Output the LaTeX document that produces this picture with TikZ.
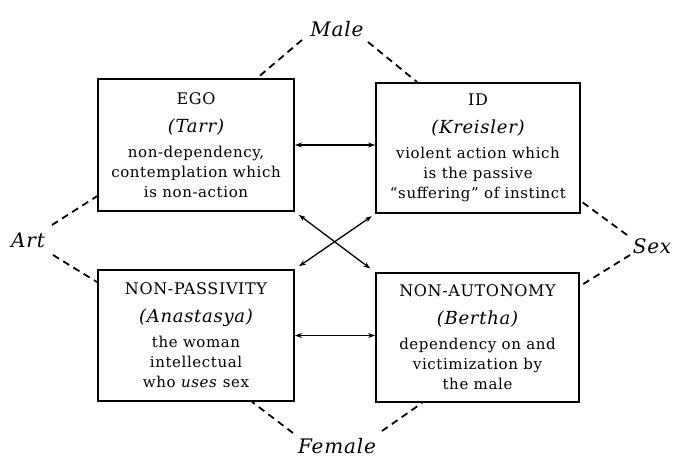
\documentclass[tikz,border=0pt]{standalone}
\usepackage{fontspec}
\setmainfont{DejaVu Serif}[LetterSpace=4]
\usetikzlibrary{arrows.meta,calc}
\begin{document}
\begin{tikzpicture}[x=1pt,y=-1pt,
  box/.style={draw,line width=1.8pt,inner sep=0pt,align=center,
    font=\fontsize{15}{20}\selectfont},
  lab/.style={font=\fontsize{20}{24}\selectfont\itshape,anchor=base,inner sep=0pt},
  dline/.style={line width=1.8pt,dash pattern=on 7pt off 5pt},
  link/.style={line width=1.3pt,{Stealth[length=7pt,width=5pt]}-{Stealth[length=7pt,width=5pt]}}]
\newcommand\hd[1]{{\fontsize{16}{20}\selectfont #1}}
\newcommand\nm[1]{{\fontsize{18}{20}\selectfont\itshape (#1)}}
\useasboundingbox (0,0) rectangle (674,458);
\fill[white] (0,0) rectangle (674,458);

\node[box,minimum width=196pt,minimum height=132pt] (ego) at (196,145)
  {\hd{EGO}\\[8pt] \nm{Tarr}\\[5pt] non-dependency,\\ contemplation which\\ is non-action};
\node[box,minimum width=204pt,minimum height=130pt] (id) at (478,148)
  {\hd{ID}\\[8pt] \nm{Kreisler}\\[5pt] violent action which\\ is the passive\\ ``suffering'' of instinct};
\node[box,minimum width=196pt,minimum height=131pt] (np) at (196,335.5)
  {\hd{NON-PASSIVITY}\\[8pt] \nm{Anastasya}\\[5pt] the woman\\ intellectual\\ who \textit{uses} sex};
\node[box,minimum width=203pt,minimum height=129pt] (na) at (477.5,337.5)
  {\hd{NON-AUTONOMY}\\[8pt] \nm{Bertha}\\[5pt] dependency on and\\ victimization by\\ the male};

\node[lab] (male) at (337,36) {Male};
\node[lab] (female) at (337,453) {Female};
\node[lab] (art) at (28,247) {Art};
\node[lab] (sex) at (652,253) {Sex};

\coordinate (maleL) at (302,40);
\coordinate (maleR) at (368,42);
\coordinate (artU) at (52,225);
\coordinate (artD) at (53,255);
\coordinate (sexU) at (627,235);
\coordinate (sexD) at (630,255);
\coordinate (femL) at (293,433);
\coordinate (femR) at (382,431);

\draw[dline] (maleL) -- ($(ego.north west)+(160,0)$);
\draw[dline] (maleR) -- ($(id.north west)+(42,0)$);
\draw[dline] (artU) -- ($(ego.north west)+(0,118)$);
\draw[dline] (artD) -- ($(np.north west)+(0,13)$);
\draw[dline] (sexU) -- ($(id.north east)+(0,119)$);
\draw[dline] (sexD) -- ($(na.north east)+(0,14)$);
\draw[dline] (femL) -- ($(np.south west)+(155,0)$);
\draw[dline] (femR) -- ($(na.south west)+(47,0)$);

\draw[link] (ego.east) -- (ego.east -| id.west);
\draw[link] (np.east) -- (np.east -| na.west);
\draw[link,shorten <=5pt,shorten >=6pt] (ego.south east) -- (na.north west);
\draw[link,shorten <=4pt,shorten >=5pt] (id.south west) -- (np.north east);
\end{tikzpicture}
\end{document}
